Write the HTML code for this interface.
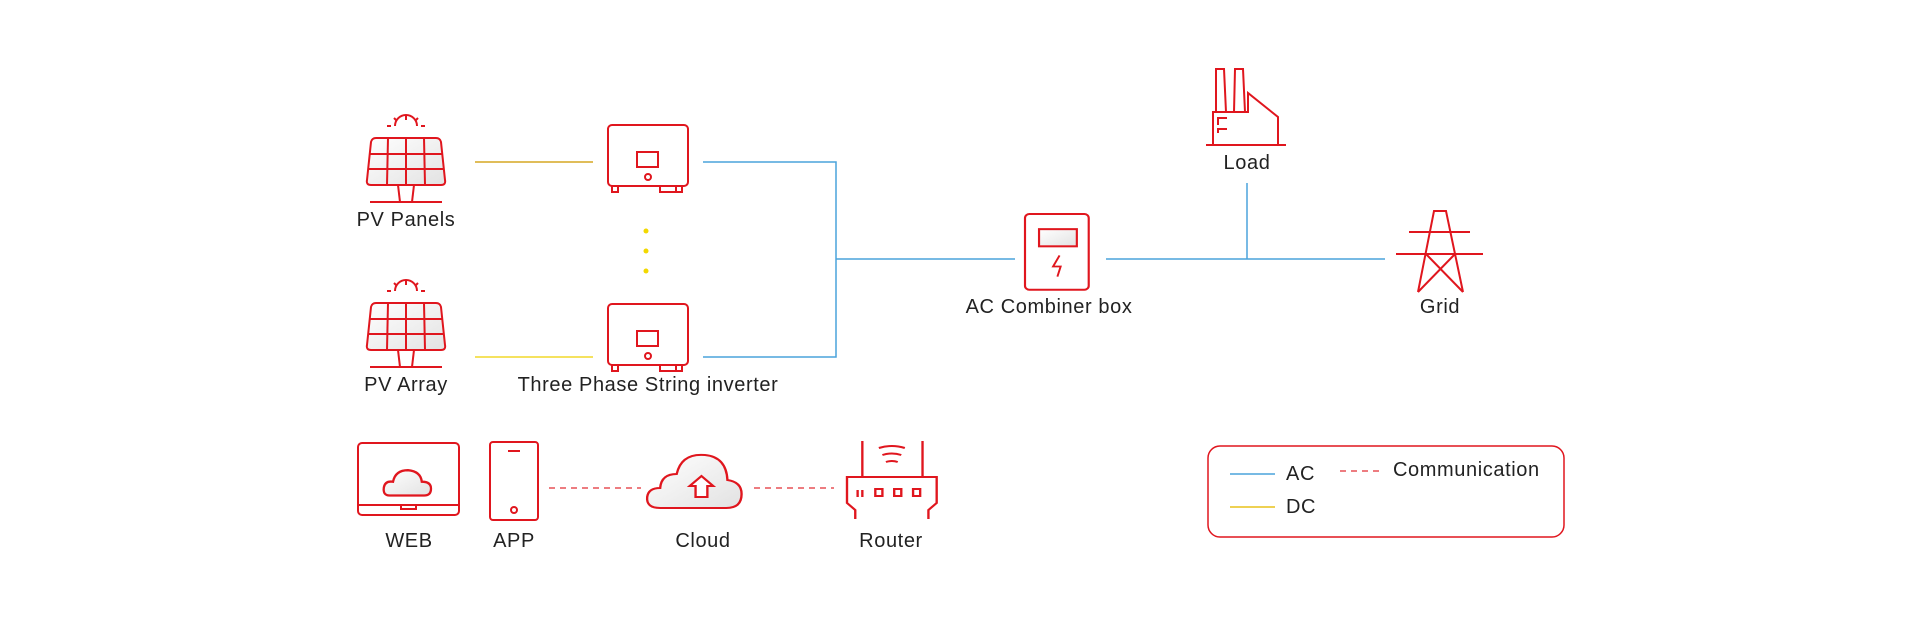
<!DOCTYPE html>
<html><head><meta charset="utf-8"><style>
html,body{margin:0;padding:0;background:#fff;}
svg{display:block;}
text{font-family:"Liberation Sans",sans-serif;font-size:20px;letter-spacing:0.6px;fill:#222;}
</style></head><body>
<svg width="1920" height="621" viewBox="0 0 1920 621" xmlns="http://www.w3.org/2000/svg">
<defs>
<linearGradient id="g" x1="0" y1="0" x2="1" y2="1"><stop offset="0" stop-color="#fff"/><stop offset="1" stop-color="#e2e2e2"/></linearGradient>
<g id="solar" fill="none" stroke="#e0161e" stroke-width="2">
  <path d="M-11,-12 A11,11 0 0 1 11,-12" />
  <line x1="0" y1="-23" x2="0" y2="-18"/><line x1="-12" y1="-20" x2="-9" y2="-17"/><line x1="12" y1="-20" x2="9" y2="-17"/>
  <line x1="-19" y1="-12" x2="-15" y2="-12"/><line x1="15" y1="-12" x2="19" y2="-12"/>
  <path d="M-30,0 L30,0 Q34,0 35,4 L39,42 Q40,47 35,47 L-35,47 Q-40,47 -39,42 L-35,4 Q-34,0 -30,0 Z" fill="url(#g)"/>
  <line x1="-37" y1="16" x2="37" y2="16"/><line x1="-38" y1="31" x2="38" y2="31"/>
  <line x1="-18" y1="0" x2="-19" y2="47"/><line x1="0" y1="0" x2="0" y2="47"/><line x1="18" y1="0" x2="19" y2="47"/>
  <line x1="-8" y1="47" x2="-6" y2="64"/><line x1="8" y1="47" x2="6" y2="64"/>
  <line x1="-36" y1="64" x2="36" y2="64"/>
</g>
<g id="inv" fill="none" stroke="#e0161e" stroke-width="2">
  <rect x="0" y="0" width="80" height="61" rx="4"/>
  <rect x="29" y="27" width="21" height="15"/>
  <circle cx="40" cy="52" r="3"/>
  <rect x="4" y="61" width="6" height="6"/><rect x="52" y="61" width="16" height="6"/><rect x="68" y="61" width="6" height="6"/>
</g>
</defs>

<!-- DC lines -->
<line x1="475" y1="162" x2="593" y2="162" stroke="#d6a722" stroke-width="1.5"/>
<line x1="475" y1="357" x2="593" y2="357" stroke="#f2d82a" stroke-width="1.5"/>
<g fill="#f2d800"><circle cx="646" cy="231" r="2.5"/><circle cx="646" cy="251" r="2.5"/><circle cx="646" cy="271" r="2.5"/></g>

<!-- AC lines -->
<g stroke="#4aa3dc" stroke-width="1.5" fill="none">
<polyline points="703,162 836,162 836,357 703,357"/>
<line x1="836" y1="259" x2="1015" y2="259"/>
<line x1="1106" y1="259" x2="1385" y2="259"/>
<line x1="1247" y1="183" x2="1247" y2="259"/>
</g>

<use href="#solar" x="406" y="138"/>
<use href="#solar" x="406" y="303"/>
<use href="#inv" x="608" y="125"/>
<use href="#inv" x="608" y="304"/>

<text x="406" y="226" text-anchor="middle">PV Panels</text>
<text x="406" y="391" text-anchor="middle">PV Array</text>
<text x="648" y="391" text-anchor="middle">Three Phase String inverter</text>

<!-- Combiner -->
<g fill="none" stroke="#e0161e" stroke-width="2" transform="translate(1025,214) scale(1.08,1.01) translate(-1019,-214)">
<rect x="1019" y="214" width="59" height="75" rx="4"/>
<rect x="1032" y="229" width="35" height="17" fill="url(#g)"/>
<polyline points="1051,255 1045,266 1052,266 1049,276" stroke-width="1.8"/>
</g>
<text x="1049" y="313" text-anchor="middle">AC Combiner box</text>

<!-- Load -->
<g fill="none" stroke="#e0161e" stroke-width="2" transform="translate(20,0)">
<polyline points="1186,145 1266,145"/>
<polyline points="1193,145 1193,112 1228,112 1228,93 1258,117 1258,145"/>
<polyline points="1196,112 1196,69 1204,69 1206,112"/>
<polyline points="1214,112 1215,69 1223,69 1225,112"/>
<polyline points="1198,125 1198,118 1207,118"/><polyline points="1198,133 1198,129 1207,129"/>
</g>
<text x="1247" y="169" text-anchor="middle">Load</text>

<!-- Grid tower -->
<g fill="none" stroke="#e0161e" stroke-width="2" transform="translate(32,0)">
<polyline points="1386,292 1402,211 1414,211 1431,292"/>
<line x1="1377" y1="232" x2="1438" y2="232"/>
<line x1="1364" y1="254" x2="1451" y2="254"/>
<polyline points="1394,254 1431,292"/><polyline points="1423,254 1386,292"/>
</g>
<text x="1440" y="313" text-anchor="middle">Grid</text>

<!-- Communication -->
<g fill="none" stroke="#e0161e" stroke-width="2">
<rect x="358" y="443" width="101" height="72" rx="4"/>
<line x1="358" y1="505" x2="459" y2="505"/>
<polyline points="401,505 401,509 416,509 416,505"/>
<g transform="translate(408,484) scale(1.15) translate(-397,-484)">
<path d="M381,494 Q375,494 376,487 Q377,481 384,482 Q386,472 397,472 Q408,473 409,482 Q417,482 417,488 Q417,494 411,494 Z" fill="url(#g)"/>
</g>
<rect x="490" y="442" width="48" height="78" rx="3"/>
<line x1="508" y1="451" x2="520" y2="451"/>
<circle cx="514" cy="510" r="3"/>
<g transform="translate(646,0) scale(1.18,1) translate(-598,0)">
<path d="M610,508 Q598,508 599,497 Q600,488 610,488 Q611,474 624,474 Q628,453 648,455 Q666,457 667,480 Q679,482 679,494 Q679,508 666,508 Z" fill="url(#g)"/>
<path d="M640,497 L640,486 L635,486 L645,476 L655,486 L650,486 L650,497 Z" fill="#fff"/>
</g>
<g transform="translate(847,0) scale(1.18,1) translate(-767,0)">
<line x1="780" y1="441" x2="780" y2="477"/><line x1="831" y1="441" x2="831" y2="477"/>
<path d="M794,448 Q805,444 816,448"/><path d="M797,455 Q805,452 813,455"/><path d="M800,462 Q805,460 810,462"/>
<polyline points="774,519 774,510 767,503 767,477 843,477 843,503 836,510 836,519"/>
<line x1="776" y1="490" x2="776" y2="497"/><line x1="780" y1="490" x2="780" y2="497"/>
<rect x="791" y="489" width="6" height="7"/><rect x="807" y="489" width="6" height="7"/><rect x="823" y="489" width="6" height="7"/>
</g>
</g>
<g stroke="#e0161e" stroke-width="1.5" stroke-dasharray="6,5" opacity="0.75">
<line x1="549" y1="488" x2="641" y2="488"/>
<line x1="754" y1="488" x2="834" y2="488"/>
</g>
<text x="409" y="547" text-anchor="middle">WEB</text>
<text x="514" y="547" text-anchor="middle">APP</text>
<text x="703" y="547" text-anchor="middle">Cloud</text>
<text x="891" y="547" text-anchor="middle">Router</text>

<!-- Legend -->
<rect x="1208" y="446" width="356" height="91" rx="12" fill="none" stroke="#e0161e" stroke-width="1.5"/>
<line x1="1230" y1="474" x2="1275" y2="474" stroke="#4aa3dc" stroke-width="1.5"/>
<line x1="1230" y1="507" x2="1275" y2="507" stroke="#e8c21a" stroke-width="1.5"/>
<line x1="1340" y1="471" x2="1384" y2="471" stroke="#e0161e" stroke-width="1.5" stroke-dasharray="6,5" opacity="0.75"/>
<text x="1286" y="480">AC</text>
<text x="1286" y="513">DC</text>
<text x="1393" y="476">Communication</text>
</svg>
</body></html>
